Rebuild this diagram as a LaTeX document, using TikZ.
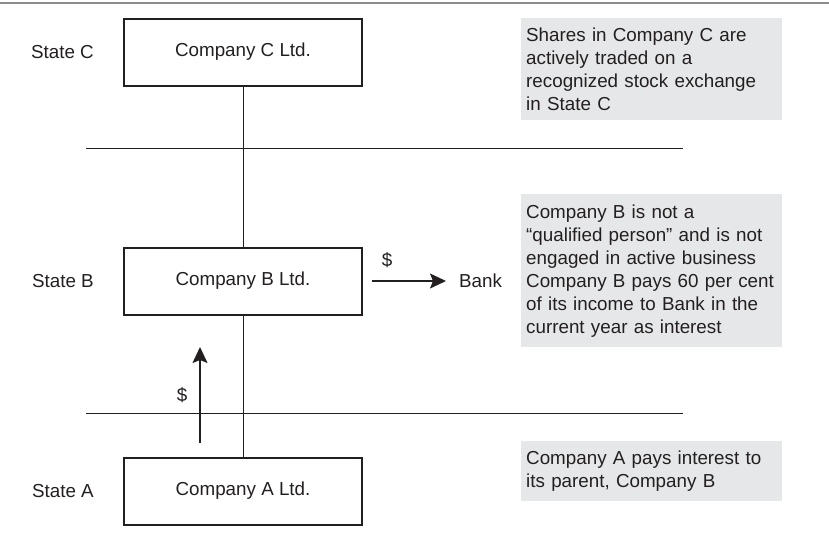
\documentclass[tikz,border=0pt]{standalone}
\usepackage{fontspec}
\setmainfont{Liberation Sans}
\usetikzlibrary{positioning,arrows.meta}
\definecolor{notegray}{RGB}{230,231,232}
\definecolor{rulegray}{RGB}{140,140,140}
\definecolor{inkblack}{RGB}{35,31,32}

\begin{document}
\begin{tikzpicture}[
x=1pt, y=-1pt,
font=\fontsize{18.8}{23}\selectfont,
every node/.style={text=inkblack},
company/.style={draw=inkblack, line width=2pt, minimum width=238pt, minimum height=67pt, inner sep=0pt},
state/.style={inner sep=0pt},
note/.style={fill=notegray, text width=251pt, align=left, inner xsep=5pt, inner ysep=0pt, anchor=north west},
link/.style={inkblack, line width=1pt},
arrow/.style={inkblack, -{Stealth[length=16pt, width=15pt, inset=3pt]}, line width=1.5pt},
]
\useasboundingbox (0,0) rectangle (829,541);
\draw[rulegray, line width=2pt] (0,3) -- (829,3);

\node[company] (cC) at (243,52) {Company C Ltd.};
\node[company] (cB) at (243,281) {Company B Ltd.};
\node[company] (cA) at (243,491) {Company A Ltd.};

\node[state] (sC) [left=29pt of cC] {State C};
\node[state] (sB) [left=29pt of cB] {State B};
\node[state] (sA) [left=29pt of cA] {State A};

\draw[link] (86,148) -- (683,148);
\draw[link] (86,413) -- (683,413);

\draw[link] (cC) -- (cB);
\draw[link] (cB) -- (cA);

\coordinate[right=9pt of cB] (outB);
\node[state] (bank) [right=96pt of cB] {Bank};
\node[state] (payC) at (387,260) {\$};
\draw[arrow, shorten >=13pt] (outB) -- (bank.west);

\coordinate (upS) at (200,443);
\coordinate (upE) at (200,347);
\node[state] (payA) at (182,395) {\$};
\draw[arrow] (upS) -- (upE);

\node[note, minimum height=102pt] (nC) at (521,18)
  {Shares in Company C are\\actively traded on a\\recognized stock exchange\\in State C};
\node[note, minimum height=153pt] (nB) at (521,194)
  {Company B is not a\\``qualified person'' and is not\\engaged in active business\\Company B pays 60 per cent\\of its income to Bank in the\\current year as interest};
\node[note, minimum height=60pt] (nA) at (521,441)
  {Company A pays interest to\\its parent, Company B};

\end{tikzpicture}
\end{document}
